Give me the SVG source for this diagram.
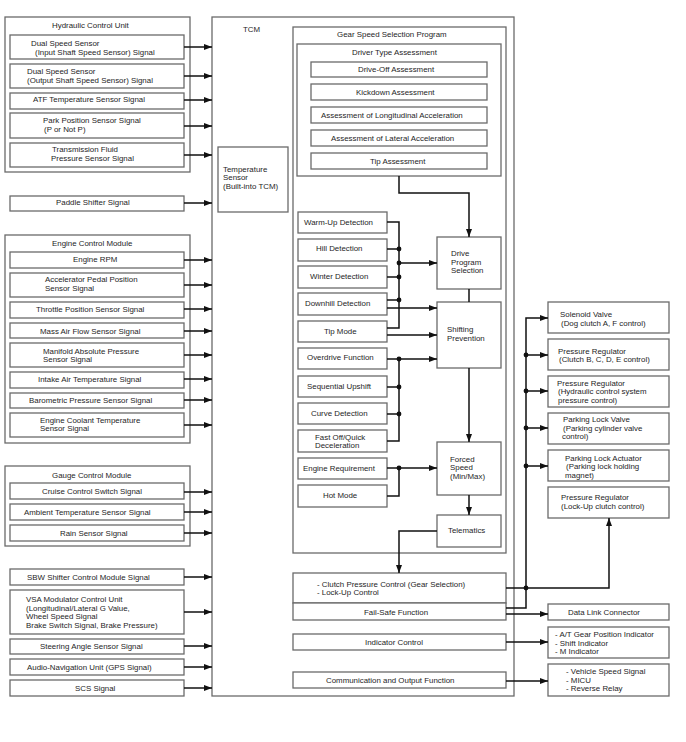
<svg xmlns="http://www.w3.org/2000/svg" width="686" height="742" viewBox="0 0 686 742">
<style>
.b{fill:#fff;stroke:#6a6a6a;stroke-width:1.3}
.g{fill:none;stroke:#6a6a6a;stroke-width:1.3}
text{font-family:"Liberation Sans",Arial,sans-serif;font-size:7.9px;fill:#1e1e1e}
.c{fill:none;stroke:#111;stroke-width:1.5}
.a{fill:none;stroke:#111;stroke-width:1.5;marker-end:url(#ah)}
.d{fill:#111}
</style>
<defs>
<marker id="ah" markerUnits="userSpaceOnUse" markerWidth="9" markerHeight="7" refX="8" refY="3.5" orient="auto">
<path d="M0,0.5 L8,3.5 L0,6.5 z" fill="#111"/>
</marker>
</defs>
<rect width="686" height="742" fill="#fff"/>

<g id="hcu">
<rect class="g" x="5" y="17" width="185" height="155"/>
<text x="52" y="28">Hydraulic Control Unit</text>
</g>
<g id="in1"><rect class="b" x="10" y="35" width="174" height="24"/><text x="31" y="46">Dual Speed Sensor</text><text x="35" y="55">(Input Shaft Speed Sensor) Signal</text></g>
<g id="in2"><rect class="b" x="10" y="64" width="174" height="24"/><text x="27" y="74">Dual Speed Sensor</text><text x="27" y="83">(Output Shaft Speed Sensor) Signal</text></g>
<g id="in3"><rect class="b" x="10" y="93" width="174" height="16"/><text x="33" y="102">ATF Temperature Sensor Signal</text></g>
<g id="in4"><rect class="b" x="10" y="113" width="174" height="25"/><text x="43" y="123">Park Position Sensor Signal</text><text x="44" y="132">(P or Not P)</text></g>
<g id="in5"><rect class="b" x="10" y="143" width="174" height="24"/><text x="52" y="152">Transmission Fluid</text><text x="51" y="161">Pressure Sensor Signal</text></g>
<g id="in6"><rect class="b" x="10" y="196" width="174" height="15"/><text x="56" y="205">Paddle Shifter Signal</text></g>

<g id="ecm">
<rect class="g" x="5" y="235" width="185" height="208"/>
<text x="52" y="246">Engine Control Module</text>
</g>
<g id="in7"><rect class="b" x="10" y="252" width="174" height="16"/><text x="73" y="262">Engine RPM</text></g>
<g id="in8"><rect class="b" x="10" y="273" width="174" height="24"/><text x="45" y="282">Accelerator Pedal Position</text><text x="45" y="291">Sensor Signal</text></g>
<g id="in9"><rect class="b" x="10" y="302" width="174" height="16"/><text x="36" y="312">Throttle Position Sensor Signal</text></g>
<g id="in10"><rect class="b" x="10" y="323" width="174" height="15"/><text x="40" y="333.5">Mass Air Flow Sensor Signal</text></g>
<g id="in11"><rect class="b" x="10" y="343" width="174" height="24"/><text x="43" y="353.5">Manifold Absolute Pressure</text><text x="43" y="362">Sensor Signal</text></g>
<g id="in12"><rect class="b" x="10" y="372" width="174" height="16"/><text x="38" y="382">Intake Air Temperature Signal</text></g>
<g id="in13"><rect class="b" x="10" y="393" width="174" height="15"/><text x="29" y="403">Barometric Pressure Sensor Signal</text></g>
<g id="in14"><rect class="b" x="10" y="413" width="174" height="24"/><text x="40" y="423">Engine Coolant Temperature</text><text x="40" y="431">Sensor Signal</text></g>

<g id="gcm">
<rect class="g" x="5" y="466" width="185" height="80"/>
<text x="52" y="478">Gauge Control Module</text>
</g>
<g id="in15"><rect class="b" x="10" y="483" width="174" height="16"/><text x="42" y="494">Cruise Control Switch Signal</text></g>
<g id="in16"><rect class="b" x="10" y="504" width="174" height="16"/><text x="24" y="515">Ambient Temperature Sensor Signal</text></g>
<g id="in17"><rect class="b" x="10" y="525" width="174" height="16"/><text x="60" y="535.5">Rain Sensor Signal</text></g>

<g id="in18"><rect class="b" x="10" y="569" width="174" height="16"/><text x="27" y="579.5">SBW Shifter Control Module Signal</text></g>
<g id="in19"><rect class="b" x="10" y="590" width="174" height="44"/><text x="26" y="602">VSA Modulator Control Unit</text><text x="26" y="610.5">(Longitudinal/Lateral G Value,</text><text x="26" y="619">Wheel Speed Signal</text><text x="26" y="627.5">Brake Switch Signal, Brake Pressure)</text></g>
<g id="in20"><rect class="b" x="10" y="639" width="174" height="15"/><text x="40" y="649">Steering Angle Sensor Signal</text></g>
<g id="in21"><rect class="b" x="10" y="659" width="174" height="16"/><text x="27" y="669.5">Audio-Navigation Unit (GPS Signal)</text></g>
<g id="in22"><rect class="b" x="10" y="680" width="174" height="16"/><text x="75" y="690.5">SCS Signal</text></g>

<g id="tcm">
<rect class="g" x="212" y="17" width="302" height="679"/>
<text x="243" y="32">TCM</text>
</g>
<g id="temp"><rect class="b" x="218" y="147" width="70" height="65"/><text x="223" y="172">Temperature</text><text x="223" y="180">Sensor</text><text x="223" y="188.5">(Built-into TCM)</text></g>

<g id="gssp">
<rect class="g" x="293" y="27" width="213" height="526"/>
<text x="337" y="37">Gear Speed Selection Program</text>
</g>
<g id="dta">
<rect class="g" x="297" y="44" width="204" height="132"/>
<text x="352" y="55">Driver Type Assessment</text>
</g>
<g id="a1"><rect class="b" x="311" y="62" width="176" height="15"/><text x="358" y="72">Drive-Off Assessment</text></g>
<g id="a2"><rect class="b" x="311" y="84" width="176" height="16"/><text x="356" y="94.5">Kickdown Assessment</text></g>
<g id="a3"><rect class="b" x="311" y="107" width="176" height="16"/><text x="321" y="118">Assessment of Longitudinal Acceleration</text></g>
<g id="a4"><rect class="b" x="311" y="130" width="176" height="16"/><text x="331" y="140.5">Assessment of Lateral Acceleration</text></g>
<g id="a5"><rect class="b" x="311" y="153" width="176" height="16"/><text x="370" y="163.5">Tip Assessment</text></g>

<g id="d1"><rect class="b" x="298" y="212" width="89" height="21"/><text x="304" y="224.5">Warm-Up Detection</text></g>
<g id="d2"><rect class="b" x="298" y="239" width="89" height="22"/><text x="316" y="251">Hill Detection</text></g>
<g id="d3"><rect class="b" x="298" y="266" width="89" height="22"/><text x="310" y="279">Winter Detection</text></g>
<g id="d4"><rect class="b" x="298" y="293" width="89" height="22"/><text x="305" y="306">Downhill Detection</text></g>
<g id="d5"><rect class="b" x="298" y="321" width="89" height="21"/><text x="324" y="333.5">Tip Mode</text></g>
<g id="d6"><rect class="b" x="298" y="348" width="89" height="21"/><text x="307" y="360">Overdrive Function</text></g>
<g id="d7"><rect class="b" x="298" y="376" width="89" height="21"/><text x="307" y="388.5">Sequential Upshift</text></g>
<g id="d8"><rect class="b" x="298" y="403" width="89" height="21"/><text x="311" y="415.5">Curve Detection</text></g>
<g id="d9"><rect class="b" x="298" y="430" width="89" height="22"/><text x="315" y="439.5">Fast Off/Quick</text><text x="315" y="448">Deceleration</text></g>
<g id="d10"><rect class="b" x="298" y="458" width="89" height="21"/><text x="303" y="471">Engine Requirement</text></g>
<g id="d11"><rect class="b" x="298" y="485" width="89" height="22"/><text x="323" y="498">Hot Mode</text></g>

<g id="dps"><rect class="b" x="437" y="237" width="64" height="52"/><text x="451" y="256">Drive</text><text x="451" y="264.5">Program</text><text x="451" y="273">Selection</text></g>
<g id="sp"><rect class="b" x="437" y="302" width="64" height="66"/><text x="447" y="332">Shifting</text><text x="447" y="340.5">Prevention</text></g>
<g id="fs"><rect class="b" x="437" y="442" width="64" height="53"/><text x="450" y="462">Forced</text><text x="450" y="470">Speed</text><text x="450" y="479">(Min/Max)</text></g>
<g id="tel"><rect class="b" x="437" y="515" width="64" height="32"/><text x="448" y="533">Telematics</text></g>

<g id="cpc"><rect class="b" x="293" y="573" width="213" height="30"/><text x="317" y="587">- Clutch Pressure Control (Gear Selection)</text><text x="317" y="595">- Lock-Up Control</text></g>
<g id="fsf"><rect class="b" x="293" y="603" width="213" height="17"/><text x="364" y="615">Fail-Safe Function</text></g>
<g id="ic"><rect class="b" x="293" y="634" width="213" height="16"/><text x="365" y="644.5">Indicator Control</text></g>
<g id="cof"><rect class="b" x="293" y="672" width="213" height="16"/><text x="326" y="682.5">Communication and Output Function</text></g>

<g id="o1"><rect class="b" x="548" y="302" width="121" height="31"/><text x="560" y="317">Solenoid Valve</text><text x="561" y="326">(Dog clutch A, F control)</text></g>
<g id="o2"><rect class="b" x="548" y="339" width="121" height="31"/><text x="558" y="354">Pressure Regulator</text><text x="559" y="362">(Clutch B, C, D, E control)</text></g>
<g id="o3"><rect class="b" x="548" y="376" width="121" height="31"/><text x="557" y="386">Pressure Regulator</text><text x="558" y="394">(Hydraulic control system</text><text x="558" y="402.5">pressure control)</text></g>
<g id="o4"><rect class="b" x="548" y="413" width="121" height="31"/><text x="563" y="422">Parking Lock Valve</text><text x="563" y="430.5">(Parking cylinder valve</text><text x="562" y="439">control)</text></g>
<g id="o5"><rect class="b" x="548" y="450" width="121" height="31"/><text x="565" y="461">Parking Lock Actuator</text><text x="566" y="469">(Parking lock holding</text><text x="565" y="477.5">magnet)</text></g>
<g id="o6"><rect class="b" x="548" y="487" width="121" height="31"/><text x="561" y="500">Pressure Regulator</text><text x="561" y="509">(Lock-Up clutch control)</text></g>
<g id="o7"><rect class="b" x="548" y="604" width="121" height="16"/><text x="568" y="615">Data Link Connector</text></g>
<g id="o8"><rect class="b" x="548" y="627" width="121" height="31"/><text x="555" y="637">- A/T Gear Position Indicator</text><text x="555" y="645.5">- Shift Indicator</text><text x="555" y="654">- M Indicator</text></g>
<g id="o9"><rect class="b" x="548" y="664" width="121" height="32"/><text x="566" y="674">- Vehicle Speed Signal</text><text x="566" y="682.5">- MICU</text><text x="566" y="691">- Reverse Relay</text></g>

<g id="connectors">
<path class="a" d="M184 47 H212"/>
<path class="a" d="M184 76 H212"/>
<path class="a" d="M184 100 H212"/>
<path class="a" d="M184 126 H212"/>
<path class="a" d="M184 155 H212"/>
<path class="a" d="M184 203 H212"/>
<path class="a" d="M184 260 H212"/>
<path class="a" d="M184 285 H212"/>
<path class="a" d="M184 309 H212"/>
<path class="a" d="M184 331 H212"/>
<path class="a" d="M184 355 H212"/>
<path class="a" d="M184 379 H212"/>
<path class="a" d="M184 400 H212"/>
<path class="a" d="M184 425 H212"/>
<path class="a" d="M184 492 H212"/>
<path class="a" d="M184 512 H212"/>
<path class="a" d="M184 533 H212"/>
<path class="a" d="M184 577 H212"/>
<path class="a" d="M184 612 H212"/>
<path class="a" d="M184 646 H212"/>
<path class="a" d="M184 667 H212"/>
<path class="a" d="M184 688 H212"/>

<path class="a" d="M399 176 V193 H469 V237"/>
<path class="c" d="M387 222 H399 V328 H387"/>
<path class="c" d="M387 249 H399 M387 277 H399 M387 300 H399"/>
<path class="a" d="M399 263 H437"/>
<path class="a" d="M387 308 H437"/>
<path class="a" d="M387 335 H437"/>
<path class="a" d="M387 359 H437"/>
<path class="c" d="M399 359 V441 H387 M387 387 H399 M387 414 H399"/>
<path class="a" d="M387 468 H437"/>
<path class="c" d="M399 468 V496 H387"/>
<path class="c" d="M469 289 V302"/>
<path class="a" d="M469 368 V442"/>
<path class="a" d="M469 495 V515"/>
<path class="a" d="M437 531 H399 V573"/>

<path class="a" d="M506 588 H609 V518"/>
<path class="a" d="M506 608 H526 V318 H548"/>
<path class="a" d="M526 355 H548"/>
<path class="a" d="M526 391 H548"/>
<path class="a" d="M526 428 H548"/>
<path class="a" d="M526 466 H548"/>
<path class="a" d="M506 614 H548"/>
<path class="a" d="M506 642 H548"/>
<path class="a" d="M506 681 H548"/>

<circle class="d" cx="399" cy="249" r="2.4"/>
<circle class="d" cx="399" cy="263" r="2.4"/>
<circle class="d" cx="399" cy="277" r="2.4"/>
<circle class="d" cx="399" cy="300" r="2.4"/>
<circle class="d" cx="399" cy="359" r="2.4"/>
<circle class="d" cx="399" cy="387" r="2.4"/>
<circle class="d" cx="399" cy="414" r="2.4"/>
<circle class="d" cx="399" cy="468" r="2.4"/>
<circle class="d" cx="526" cy="355" r="2.4"/>
<circle class="d" cx="526" cy="391" r="2.4"/>
<circle class="d" cx="526" cy="428" r="2.4"/>
<circle class="d" cx="526" cy="466" r="2.4"/>
<circle class="d" cx="526" cy="588" r="2.4"/>
</g>
</svg>
